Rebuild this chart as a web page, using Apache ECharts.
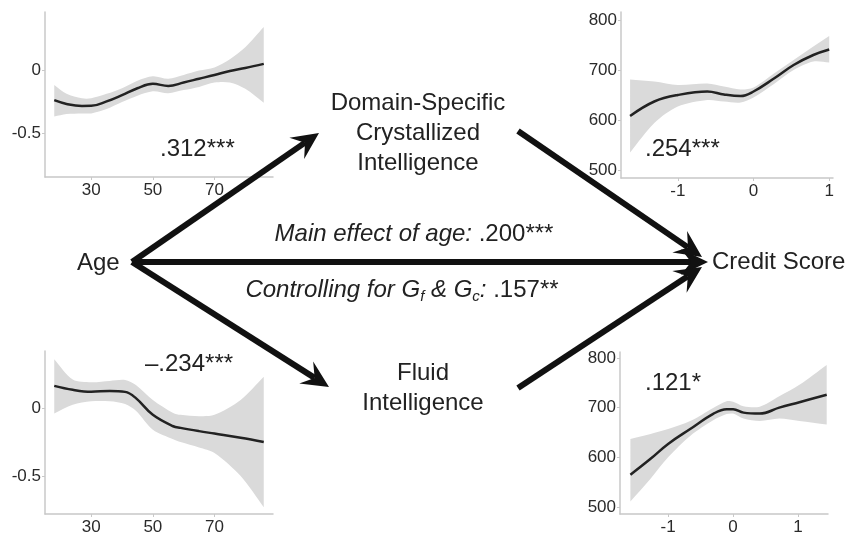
<!DOCTYPE html>
<html>
<head>
    <meta charset="utf-8">
    <title>Age, intelligence and credit score</title>
    <script src="https://cdn.jsdelivr.net/npm/echarts@6/dist/echarts.min.js"></script>
</head>
<body style="margin:0;">
    <div id="main" style="width: 851px; height: 536px;"></div>

    <script type="text/javascript">
        // top-left: age -> domain-specific crystallized intelligence
        var tlAge = [18, 22, 27, 30, 35, 40, 45, 50, 55, 60, 65, 70, 75, 80, 86];
        var tlFit = [-0.24, -0.27, -0.286, -0.285, -0.25, -0.2, -0.145, -0.11, -0.127, -0.10, -0.07, -0.04, -0.008, 0.016, 0.048];
        var tlLo = [-0.37, -0.35, -0.345, -0.345, -0.31, -0.255, -0.205, -0.17, -0.185, -0.16, -0.135, -0.10, -0.10, -0.15, -0.26];
        var tlHi = [-0.12, -0.19, -0.225, -0.225, -0.19, -0.145, -0.085, -0.05, -0.07, -0.04, -0.005, 0.02, 0.085, 0.18, 0.34];

        // top-right: crystallized intelligence -> credit score
        var trGc = [-1.63, -1.31, -1.0, -0.61, -0.39, -0.17, 0, 0.27, 0.53, 0.79, 1.0];
        var trFit = [608, 637, 650, 657, 651, 648, 657, 683, 710, 730, 741];
        var trLo = [535, 594, 627, 640, 637, 635, 645, 672, 700, 717, 715];
        var trHi = [681, 677, 670, 673, 667, 661, 665, 693, 720, 747, 768];

        // bottom-left: age -> fluid intelligence
        var blAge = [18, 24, 30, 36, 41, 44.5, 50, 56.6, 59, 65, 70, 78.5, 86];
        var blFit = [0.163, 0.134, 0.12, 0.126, 0.119, 0.073, -0.05, -0.134, -0.146, -0.17, -0.188, -0.219, -0.25];
        var blLo = [-0.04, 0.024, 0.05, 0.05, 0.03, -0.02, -0.16, -0.23, -0.25, -0.29, -0.33, -0.5, -0.73];
        var blHi = [0.36, 0.21, 0.19, 0.2, 0.207, 0.17, 0.06, -0.036, -0.05, -0.06, -0.05, 0.06, 0.23];

        // bottom-right: fluid intelligence -> credit score
        var brGf = [-1.58, -1.27, -1.0, -0.66, -0.30, -0.1, 0, 0.16, 0.41, 0.71, 1.02, 1.44];
        var brFit = [565, 597, 627, 657, 688, 697, 697, 690, 688, 700, 711, 726];
        var brLo = [511, 557, 600, 643, 675, 687, 688, 678, 673, 678, 673, 666];
        var brHi = [637, 647, 657, 673, 700, 713, 712, 703, 702, 723, 746, 786];

        // tick labels
        var ageTicks = [30, 50, 70];
        var zTicks = [-1, 0, 1];
        var effTicks = [-0.5, 0];
        var creditTicks = [500, 600, 700, 800];

        var FONT = "'Liberation Sans', Arial, sans-serif";
        var chart = echarts.init(document.getElementById('main'));

        function pairs(xs, ys) {
            return xs.map(function (x, i) { return [x, ys[i]]; });
        }

        function axis(idx, min, max, ticks, isX) {
            return {
                type: 'value',
                gridIndex: idx,
                min: min,
                max: max,
                axisLine: { show: true, onZero: false, lineStyle: { color: '#c8c8c8', width: 1.5 } },
                axisTick: { show: true, length: 3, customValues: ticks, lineStyle: { color: '#c8c8c8' } },
                axisLabel: { customValues: ticks, fontSize: 17, color: '#2a2a2a', fontFamily: FONT, margin: isX ? 5 : 4 },
                splitLine: { show: false }
            };
        }

        // grey confidence band (one polygon through the axis scales) plus the dark fit line
        function panel(idx, xs, fit, lo, hi) {
            return [
                {
                    type: 'custom', xAxisIndex: idx, yAxisIndex: idx, silent: true,
                    data: xs.map(function (x, i) { return [x, lo[i], hi[i]]; }),
                    encode: { x: 0, y: [1, 2] },
                    renderItem: function (params, api) {
                        if (params.dataIndex !== 0) return;
                        var top = xs.map(function (x, i) { return api.coord([x, hi[i]]); });
                        var bot = xs.map(function (x, i) { return api.coord([x, lo[i]]); }).reverse();
                        // repeat the four corner points so the smoothing keeps the ends square
                        var pts = [top[0]].concat(top, [top[top.length - 1]], [bot[0]], bot, [bot[bot.length - 1]]);
                        return {
                            type: 'polygon',
                            shape: { points: pts, smooth: 0.3 },
                            style: { fill: '#dadada' }
                        };
                    }
                },
                {
                    type: 'line', xAxisIndex: idx, yAxisIndex: idx,
                    data: pairs(xs, fit), symbol: 'none', smooth: 0.4, silent: true,
                    lineStyle: { color: '#222', width: 2.5 }
                }
            ];
        }

        // thick path arrow with a swept-back head
        function arrow(x1, y1, x2, y2) {
            var dx = x2 - x1, dy = y2 - y1, len = Math.sqrt(dx * dx + dy * dy);
            var ux = dx / len, uy = dy / len, nx = -uy, ny = ux;
            var L = 27, W = 13, N = 17;
            return [
                { type: 'line', z: 10, shape: { x1: x1, y1: y1, x2: x2 - ux * N, y2: y2 - uy * N }, style: { stroke: '#111', lineWidth: 6 } },
                { type: 'polygon', z: 10, shape: { points: [
                    [x2, y2],
                    [x2 - ux * L + nx * W, y2 - uy * L + ny * W],
                    [x2 - ux * N, y2 - uy * N],
                    [x2 - ux * L - nx * W, y2 - uy * L - ny * W]
                ] }, style: { fill: '#111' } }
            ];
        }

        function label(text, x, y, align, extra) {
            var style = { text: text, x: x, y: y, align: align || 'center', verticalAlign: 'middle',
                fontSize: 24, fontFamily: FONT, fill: '#222' };
            if (extra) { for (var k in extra) style[k] = extra[k]; }
            return { type: 'text', z: 11, style: style };
        }

        var graphics = []
            .concat(arrow(132, 262, 319, 133))
            .concat(arrow(132, 262, 329, 387))
            .concat(arrow(132, 262, 708, 262))
            .concat(arrow(518, 131, 702, 257))
            .concat(arrow(518, 388, 702, 267))
            .concat([
                label('Age', 77, 263, 'left'),
                label('Credit Score', 712, 262, 'left'),
                label('Domain-Specific\nCrystallized\nIntelligence', 418, 133, 'center', { lineHeight: 30 }),
                label('Fluid\nIntelligence', 423, 388, 'center', { lineHeight: 30 }),
                label('{it|Main effect of age: }{n|.200***}', 414, 234, 'center', {
                    rich: {
                        it: { fontSize: 24, fontStyle: 'italic', fontFamily: FONT, fill: '#222' },
                        n: { fontSize: 24, fontFamily: FONT, fill: '#222' }
                    }
                }),
                label('{it|Controlling for G}{sub|f}{it| & G}{sub|c}{it|: }{n|.157**}', 402, 290, 'center', {
                    rich: {
                        it: { fontSize: 24, fontStyle: 'italic', fontFamily: FONT, fill: '#222', lineHeight: 28 },
                        sub: { fontSize: 15, fontStyle: 'italic', fontFamily: FONT, fill: '#222', lineHeight: 15, verticalAlign: 'bottom' },
                        n: { fontSize: 24, fontFamily: FONT, fill: '#222', lineHeight: 28 }
                    }
                }),
                label('.312***', 160, 149, 'left'),
                label('.254***', 645, 149, 'left'),
                label('\u2013.234***', 145, 364, 'left'),
                label('.121*', 645, 383, 'left')
            ]);

        var option = {
            animation: false,
            grid: [
                { left: 45, top: 12, width: 228, height: 165 },
                { left: 621, top: 12, width: 212, height: 166 },
                { left: 45, top: 351, width: 228, height: 164 },
                { left: 620, top: 352, width: 208, height: 164 }
            ],
            xAxis: [
                axis(0, 15, 89, ageTicks, true),
                axis(1, -1.75, 1.05, zTicks, true),
                axis(2, 15, 89, ageTicks, true),
                axis(3, -1.74, 1.46, zTicks, true)
            ],
            yAxis: [
                axis(0, -0.85, 0.46, effTicks, false),
                axis(1, 484, 816, creditTicks, false),
                axis(2, -0.78, 0.42, effTicks, false),
                axis(3, 486, 812, creditTicks, false)
            ],
            series: []
                .concat(panel(0, tlAge, tlFit, tlLo, tlHi))
                .concat(panel(1, trGc, trFit, trLo, trHi))
                .concat(panel(2, blAge, blFit, blLo, blHi))
                .concat(panel(3, brGf, brFit, brLo, brHi)),
            graphic: graphics
        };

        chart.setOption(option);

        window.addEventListener('resize', function () {
            chart.resize();
        });
    </script>
</body>
</html>
